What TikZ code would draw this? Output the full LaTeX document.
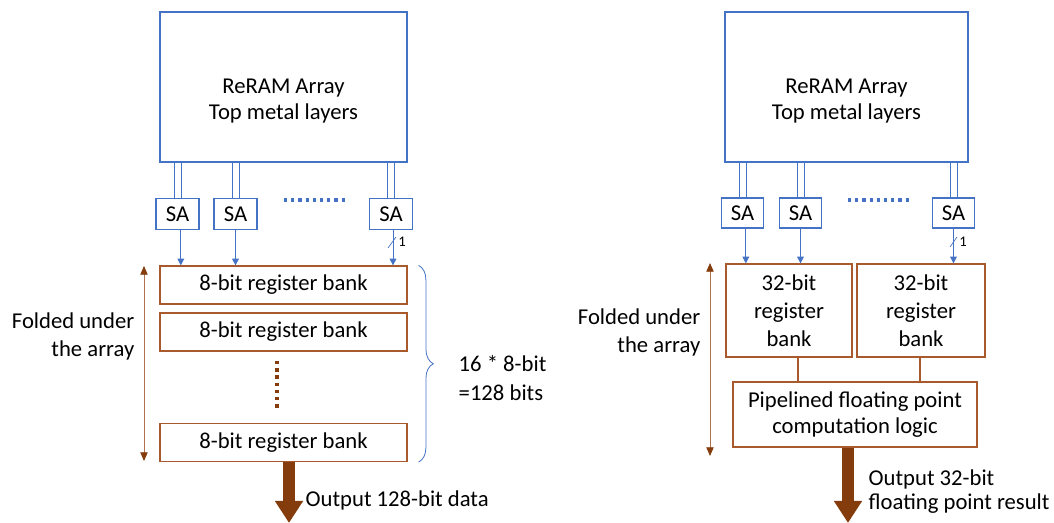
\documentclass[tikz,border=0pt]{standalone}
\usepackage{fontspec}
\setmainfont{Carlito}
\usetikzlibrary{arrows.meta,calc,decorations.pathreplacing}
\definecolor{arrblue}{HTML}{4472C4}
\definecolor{boxbrown}{HTML}{A85A2C}
\definecolor{darkbrown}{HTML}{843C0C}
\definecolor{foldbrown}{HTML}{B0714E}
% sizes below are given in pixels; one pixel is 0.75pt
\tikzset{
  wd/.style={minimum width=0.75*#1},
  ht/.style={minimum height=0.75*#1},
  arraybox/.style={draw=arrblue, line width=0.9pt, wd=#1, ht=150, inner sep=0pt},
  sabox/.style={draw=arrblue, line width=0.9pt, wd=43, ht=31, inner sep=0pt, font=\fontsize{17}{19}\selectfont},
  regbox/.style={draw=boxbrown, line width=0.9pt, inner sep=0pt, align=center},
  bitline/.style={draw=arrblue, line width=0.6pt},
  saarrow/.style={draw=arrblue, line width=0.6pt, -{Triangle[length=5pt,width=5pt]}},
  bluedots/.style={draw=arrblue, line width=2.4pt, dash pattern=on 2.4pt off 3pt},
  browndots/.style={draw=darkbrown, line width=2.6pt, dash pattern=on 2.6pt off 2.8pt},
  foldarrow/.style={draw=foldbrown, line width=0.6pt,
    {Triangle[length=6.5pt,width=5.5pt,color=darkbrown]}-{Triangle[length=6.5pt,width=5.5pt,color=darkbrown]}},
  outarrow/.style={draw=darkbrown, line width=9pt, -{Triangle[length=16.5pt 0,width=20pt 0]}},
  bigtxt/.style={font=\fontsize{17}{20}\selectfont},
  tinytxt/.style={font=\fontsize{11}{12}\selectfont, inner sep=1pt}
}
% two parallel bit lines from a sense amplifier up to the array
\newcommand\bitpair[2]{%
  \draw[bitline] ([xshift=-2.6pt]#1.north) -- ([xshift=-2.6pt]#1.north |- #2.south);
  \draw[bitline] ([xshift=2.6pt]#1.north) -- ([xshift=2.6pt]#1.north |- #2.south);}
\begin{document}
\begin{tikzpicture}[x=0.75pt, y=-0.75pt]
\useasboundingbox (0,0) rectangle (1054,523);

% ---------------- left: 8-bit register banks ----------------
\node[arraybox=247] (arrL) at (283.5,87) {};
\node[align=center, font=\fontsize{17}{19}\selectfont] (arrLtxt) at (283.5,101) {ReRAM Array\\Top metal layers};

\node[sabox] (saL1) at (177.5,214) {SA};
\node[sabox] (saL2) at (235.5,214) {SA};
\node[sabox] (saL3) at (391,214) {SA};

\bitpair{saL1}{arrL}
\bitpair{saL2}{arrL}
\bitpair{saL3}{arrL}

\coordinate (dotLa) at (284,200);
\coordinate (dotLb) at (346,200);
\draw[bluedots] (dotLa) -- (dotLb);

\node[regbox, wd=247, ht=38, bigtxt] (regL1) at (283.5,285) {8-bit register bank};
\node[regbox, wd=247, ht=38, bigtxt] (regL2) at (283.5,332) {8-bit register bank};
\node[regbox, wd=247, ht=38, bigtxt] (regL3) at (283.5,442.5) {8-bit register bank};

\draw[saarrow] ([xshift=2.5pt]saL1.south) -- ([xshift=2.5pt]saL1.south |- regL1.north);
\draw[saarrow] (saL2.south) -- (saL2.south |- regL1.north);
\draw[saarrow] ([xshift=1.5pt]saL3.south) -- ([xshift=1.5pt]saL3.south |- regL1.north);

% bus-width mark
\coordinate (slLa) at (388,248);
\coordinate (slLb) at (396,237);
\draw[arrblue, line width=0.5pt] (slLa) -- (slLb);
\node[tinytxt] (wL) at (402,242) {1};

\coordinate (vdLa) at (277,361);
\coordinate (vdLb) at (277,410);
\draw[browndots] (vdLa) -- (vdLb);

\coordinate (foldLa) at (144,266);
\coordinate (foldLb) at (144,461);
\draw[foldarrow] (foldLa) -- (foldLb);
\node[align=right, anchor=east, font=\fontsize{17}{21}\selectfont] (foldLtxt) at (139,336) {Folded under\\the array};

\draw[arrblue, line width=0.6pt, decorate, decoration={brace, amplitude=11pt}]
  (regL1.north east) ++(11,0) coordinate (brA) -- (brA |- regL3.south);
\node[anchor=west, align=left, font=\fontsize{17}{22}\selectfont] (sumL) at (454,378) {16 * 8-bit\\=128 bits};

\coordinate (outL) at (289,523);
\draw[outarrow] (regL3.south -| outL) -- (outL);
\node[anchor=west, bigtxt] (outLtxt) at (301,500) {Output 128-bit data};

% ---------------- right: 32-bit register banks ----------------
\node[arraybox=243] (arrR) at (846.5,87) {};
\node[align=center, font=\fontsize{17}{19}\selectfont] (arrRtxt) at (846.5,101) {ReRAM Array\\Top metal layers};

\node[sabox, wd=42, ht=30] (saR1) at (742.5,213) {SA};
\node[sabox, wd=42, ht=30] (saR2) at (800.5,213) {SA};
\node[sabox, wd=42, ht=30] (saR3) at (953.5,213) {SA};

\bitpair{saR1}{arrR}
\bitpair{saR2}{arrR}
\bitpair{saR3}{arrR}

\coordinate (dotRa) at (848,200);
\coordinate (dotRb) at (909,200);
\draw[bluedots] (dotRa) -- (dotRb);

\node[regbox, wd=126, ht=93, font=\fontsize{17}{21}\selectfont] (r32a) at (789,310.5) {32-bit\\register\\bank};
\node[regbox, wd=128, ht=93, font=\fontsize{17}{21}\selectfont] (r32b) at (921,310.5) {32-bit\\register\\bank};
\node[regbox, wd=244, ht=65, font=\fontsize{17}{20}\selectfont] (pipe) at (855,414.5) {Pipelined floating point\\computation logic};

\draw[saarrow] ([xshift=2.5pt]saR1.south) -- ([xshift=2.5pt]saR1.south |- r32a.north);
\draw[saarrow] (saR2.south) -- (saR2.south |- r32a.north);
\draw[saarrow] (saR3.south) -- (saR3.south |- r32b.north);

\coordinate (linkA) at ($(r32a.south)+(9,0)$);
\coordinate (linkB) at ($(r32b.south)+(-1,0)$);
\draw[boxbrown, line width=0.9pt] (linkA) -- (linkA |- pipe.north);
\draw[boxbrown, line width=0.9pt] (linkB) -- (linkB |- pipe.north);

\coordinate (slRa) at (950,247);
\coordinate (slRb) at (957,237);
\draw[arrblue, line width=0.5pt] (slRa) -- (slRb);
\node[tinytxt] (wR) at (963,242) {1};

\coordinate (foldRa) at (710,263);
\coordinate (foldRb) at (710,456);
\draw[foldarrow] (foldRa) -- (foldRb);
\node[align=right, anchor=east, font=\fontsize{17}{21}\selectfont] (foldRtxt) at (705,332) {Folded under\\the array};

\coordinate (outR) at (848,523);
\draw[outarrow] (pipe.south -| outR) -- (outR);
\node[anchor=west, align=left, font=\fontsize{17}{18}\selectfont] (outRtxt) at (864,492) {Output 32-bit\\floating point result};
\end{tikzpicture}
\end{document}
